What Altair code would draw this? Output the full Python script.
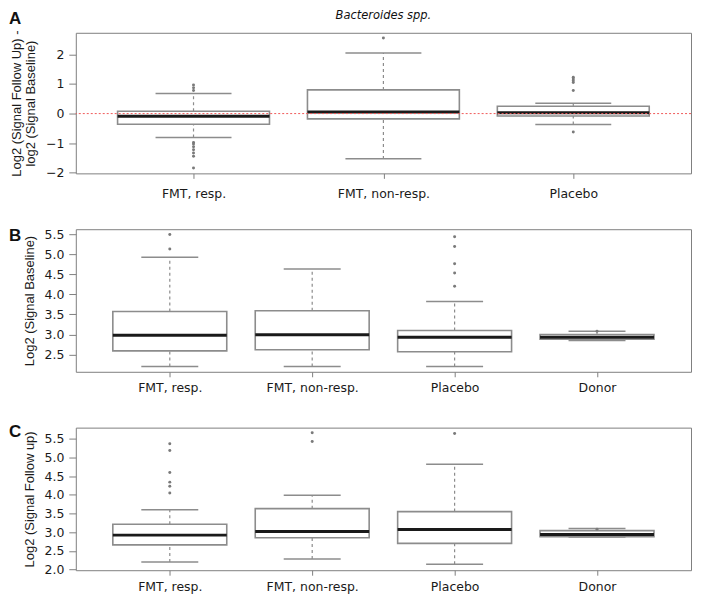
import json
import altair as alt
import pandas as pd

# ---------------- data ----------------
CATS_A = ["FMT, resp.", "FMT, non-resp.", "Placebo"]
CATS_BC = ["FMT, resp.", "FMT, non-resp.", "Placebo", "Donor"]

# Panel A: Log2 follow-up minus log2 baseline
A_LO = [-0.81, -1.53, -0.37]
A_Q1 = [-0.36, -0.18, -0.08]
A_MED = [-0.09, 0.05, 0.03]
A_Q3 = [0.08, 0.80, 0.25]
A_HI = [0.68, 2.05, 0.35]
A_OUT_CAT = ["FMT, resp."] * 10 + ["FMT, non-resp."] + ["Placebo"] * 6
A_OUT_VAL = [0.97, 0.87, 0.78, -0.98, -1.03, -1.12, -1.22, -1.33, -1.44, -1.84,
             2.55,
             1.23, 1.17, 1.11, 1.05, 0.78, -0.62]

# Panel B: Log2 signal baseline
B_LO = [2.20, 2.20, 2.20, 2.85]
B_Q1 = [2.59, 2.62, 2.57, 2.88]
B_MED = [2.98, 2.99, 2.93, 2.93]
B_Q3 = [3.57, 3.59, 3.10, 3.00]
B_HI = [4.92, 4.63, 3.82, 3.08]
B_OUT_CAT = ["FMT, resp."] * 2 + ["Placebo"] * 5 + ["Donor"]
B_OUT_VAL = [5.49, 5.13, 5.43, 5.19, 4.76, 4.53, 4.20, 3.08]

# Panel C: Log2 signal follow up
C_LO = [2.20, 2.28, 2.14, 2.87]
C_Q1 = [2.66, 2.85, 2.70, 2.88]
C_MED = [2.92, 3.02, 3.07, 2.94]
C_Q3 = [3.21, 3.63, 3.55, 3.04]
C_HI = [3.60, 3.99, 4.82, 3.10]
C_OUT_CAT = ["FMT, resp."] * 6 + ["FMT, non-resp."] * 2 + ["Placebo"] + ["Donor"]
C_OUT_VAL = [5.37, 5.19, 4.60, 4.34, 4.23, 4.05, 5.66, 5.43, 5.64, 3.08]

A_TICKS = [-2, -1, 0, 1, 2]
B_TICKS = [2.5, 3.0, 3.5, 4.0, 4.5, 5.0, 5.5]
C_TICKS = [2.0, 2.5, 3.0, 3.5, 4.0, 4.5, 5.0, 5.5]

TITLE = "Bacteroides spp."
A_YTITLE = ["Log2 (Signal Follow Up) -", "log2 (Signal Baseline)"]
B_YTITLE = "Log2 (Signal Baseline)"
C_YTITLE = "Log2 (Signal Follow up)"

W = 617
LEFT = 67
GREY = "#8c8c8c"
LABEL_FONT = "DejaVu Sans"
TITLE_FONT = "Liberation Sans"


def panel(cats, lo, q1, med, q3, hi, out_cat, out_val, ydom, yvals, yfmt,
          ytitle, h, letter, letter_y, xpad, title=None, ref=None):
    n = len(cats)
    pos = {c: i + 1 for i, c in enumerate(cats)}
    stats = pd.DataFrame({"cat": cats, "lo": lo, "q1": q1, "med": med,
                          "q3": q3, "hi": hi})
    stats["pos"] = stats["cat"].map(pos)
    outs = pd.DataFrame({"cat": out_cat, "val": out_val})
    outs["pos"] = outs["cat"].map(pos)

    xs = alt.Scale(domain=[0.5 - 0.04 * n, n + 0.5 + 0.04 * n], nice=False, zero=False)
    ys = alt.Scale(domain=ydom, nice=False, zero=False)
    xaxis = alt.Axis(values=list(range(1, n + 1)),
                     labelExpr=f"{json.dumps(cats)}[datum.value - 1]",
                     title=None, tickSize=5, labelPadding=xpad, domain=False,
                     grid=False, labelFlush=False)
    yaxis = alt.Axis(values=yvals, format=yfmt, title=ytitle, tickSize=7,
                     labelPadding=5, titlePadding=8, domain=False, grid=False,
                     labelFlush=False, titleLineHeight=14)

    def X(f):
        return alt.X(f, scale=xs, axis=xaxis)

    def Y(f):
        return alt.Y(f, scale=ys, axis=yaxis)

    base = alt.Chart(stats).transform_calculate(
        x0="datum.pos - 0.4", x1="datum.pos + 0.4",
        c0="datum.pos - 0.2", c1="datum.pos + 0.2")

    wlo = base.mark_rule(color=GREY, strokeWidth=1.2, strokeDash=[3, 3]).encode(
        x=X("pos:Q"), y=Y("lo:Q"), y2="q1:Q")
    whi = base.mark_rule(color=GREY, strokeWidth=1.2, strokeDash=[3, 3]).encode(
        x=X("pos:Q"), y=Y("q3:Q"), y2="hi:Q")
    cap_lo = base.mark_rule(color=GREY, strokeWidth=1.5).encode(
        x=X("c0:Q"), x2="c1:Q", y=Y("lo:Q"))
    cap_hi = base.mark_rule(color=GREY, strokeWidth=1.5).encode(
        x=X("c0:Q"), x2="c1:Q", y=Y("hi:Q"))
    box = base.mark_bar(fill="white", stroke=GREY, strokeWidth=1.6).encode(
        x=X("x0:Q"), x2="x1:Q", y=Y("q1:Q"), y2="q3:Q")
    medl = base.mark_rule(color="#1a1a1a", strokeWidth=3).encode(
        x=X("x0:Q"), x2="x1:Q", y=Y("med:Q"))
    pts = alt.Chart(outs).mark_circle(size=9, color="#7a7a7a", opacity=1).encode(
        x=X("pos:Q"), y=Y("val:Q"))

    layers = [wlo, whi, cap_lo, cap_hi, box, medl, pts]
    if ref is not None:
        layers.append(alt.Chart(pd.DataFrame({"r": [ref]})).mark_rule(
            color="#f05a5a", strokeWidth=1, strokeDash=[2, 2]).encode(
            y=Y("r:Q")))
    layers.append(alt.Chart(pd.DataFrame({"t": [letter]})).mark_text(
        font=TITLE_FONT, fontSize=17, fontWeight="bold", align="left",
        baseline="alphabetic", color="#111111").encode(
        text="t:N", x=alt.value(-LEFT), y=alt.value(letter_y)))
    if title is not None:
        layers.append(alt.Chart(pd.DataFrame({"t": [title]})).mark_text(
            font=LABEL_FONT, fontSize=11.5, fontStyle="italic", align="center",
            baseline="alphabetic", color="#111111").encode(
            text="t:N", x=alt.value(W / 2), y=alt.value(-14)))
    return alt.layer(*layers).properties(width=W, height=h)


pa = panel(CATS_A, A_LO, A_Q1, A_MED, A_Q3, A_HI, A_OUT_CAT, A_OUT_VAL,
           [-2.02, 2.73], A_TICKS, "d", A_YTITLE, 141, "A", -9, 9,
           title=TITLE, ref=0)
pb = panel(CATS_BC, B_LO, B_Q1, B_MED, B_Q3, B_HI, B_OUT_CAT, B_OUT_VAL,
           [2.07, 5.62], B_TICKS, ".1f", B_YTITLE, 143, "B", 12, 5)
pc = panel(CATS_BC, C_LO, C_Q1, C_MED, C_Q3, C_HI, C_OUT_CAT, C_OUT_VAL,
           [1.98, 5.80], C_TICKS, ".1f", C_YTITLE, 143, "C", 9, 5)

chart = alt.vconcat(pa, pb, pc, spacing=56, bounds="flush",
                    padding={"left": 0, "top": 0, "right": 1, "bottom": 0}
                    ).configure_view(stroke="#7f7f7f", strokeWidth=1
                    ).configure_axis(labelFont=LABEL_FONT, labelFontSize=12.5,
                                     labelColor="#1a1a1a", tickColor="#7f7f7f",
                                     titleFont=TITLE_FONT, titleFontSize=13,
                                     titleFontWeight="normal", titleColor="#1a1a1a")

chart.save("out.html", embed_options={"renderer": "svg", "actions": False})
